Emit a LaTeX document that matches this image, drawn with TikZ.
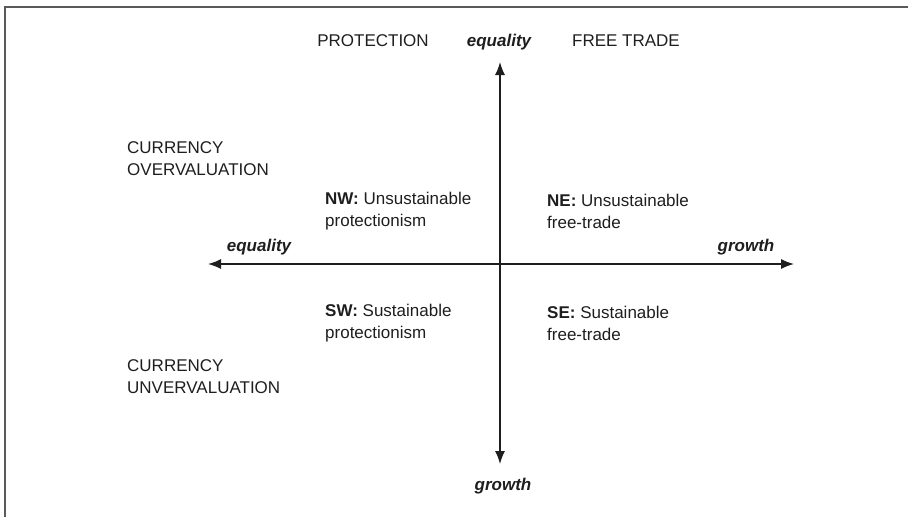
\documentclass[tikz,border=0pt]{standalone}
\usepackage{fontspec}
\setmainfont{Liberation Sans}
\usetikzlibrary{arrows.meta}
\definecolor{txt}{HTML}{1E1E1E}
\definecolor{framecol}{HTML}{5A5A5A}
\begin{document}
\begin{tikzpicture}[x=1pt,y=-1pt,
  lbl/.style={font=\fontsize{17}{22}\selectfont, text=txt, inner sep=0pt},
  axlbl/.style={font=\fontsize{17}{22}\selectfont\bfseries\itshape, text=txt, inner sep=0pt},
  quad/.style={lbl, anchor=west, align=left},
  axisline/.style={line width=1.4pt, draw=txt, {Latex[length=13pt,width=10pt]}-{Latex[length=13pt,width=10pt]}},
  frameline/.style={line width=1.6pt, draw=framecol}]
\useasboundingbox (0,0) rectangle (908,517);
% frame
\coordinate (fbl) at (5,517);
\coordinate (ftl) at (5,7);
\coordinate (ftr) at (908,7);
\draw[frameline] (fbl) -- (ftl) -- (ftr);
% axes
\coordinate (W) at (208,264);
\coordinate (E) at (794,264);
\coordinate (N) at (500,62);
\coordinate (S) at (500,464);
\draw[axisline] (W) -- (E);
\draw[axisline] (N) -- (S);
% axis labels
\node[axlbl] (eqtop) at (499,42) {equality};
\node[axlbl] (eqleft) at (259,247) {equality};
\node[axlbl] (grright) at (746,247) {growth};
\node[axlbl] (grbot) at (503,486) {growth};
% top labels
\node[lbl] (prot) at (373,41) {PROTECTION};
\node[lbl] (free) at (626,41) {FREE TRADE};
% side labels
\node[quad] (over) at (127,159) {CURRENCY\\OVERVALUATION};
\node[quad] (under) at (127,377) {CURRENCY\\UNVERVALUATION};
% quadrants
\node[quad] (nw) at (325,211) {\textbf{NW:} Unsustainable\\protectionism};
\node[quad] (ne) at (547,211) {\textbf{NE:} Unsustainable\\free-trade};
\node[quad] (sw) at (325,323) {\textbf{SW:} Sustainable\\protectionism};
\node[quad] (se) at (547,323) {\textbf{SE:} Sustainable\\free-trade};
\end{tikzpicture}
\end{document}
